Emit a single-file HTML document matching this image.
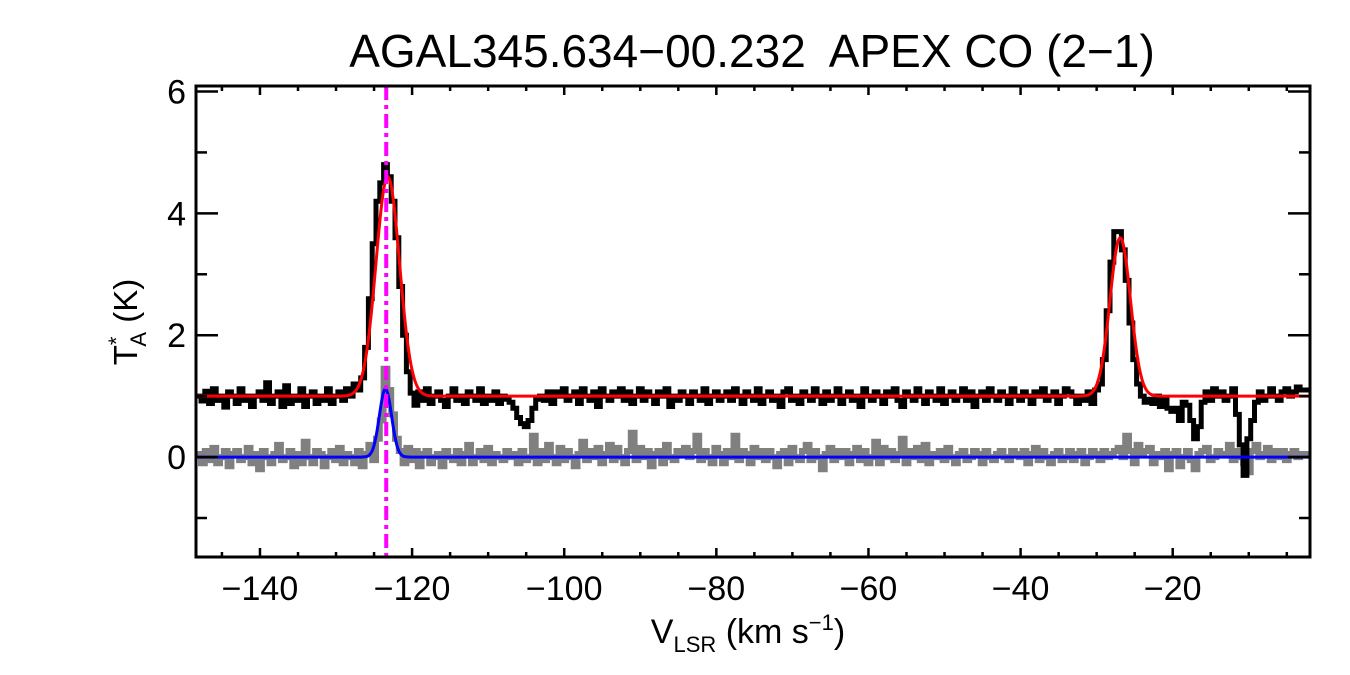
<!DOCTYPE html>
<html><head><meta charset="utf-8"><style>
body{margin:0;background:#fff;}
svg{display:block;font-family:"Liberation Sans",sans-serif;}
</style></head><body>
<svg id="chart" width="1350" height="675" xmlns="http://www.w3.org/2000/svg">
<text x="752" y="67" font-size="46" text-anchor="middle" xml:space="preserve">AGAL345.634−00.232  APEX CO (2−1)</text>
<g id="series"></g>
<g id="axes"></g>
<text transform="translate(137,322) rotate(-90)" font-size="33" text-anchor="middle">T<tspan font-size="22" dy="-13">*</tspan><tspan font-size="22" dx="-10" dy="22">A</tspan><tspan dy="-9"> (K)</tspan></text>
<text x="748" y="643" font-size="34" text-anchor="middle">V<tspan font-size="22" dy="9">LSR</tspan><tspan dy="-9"> (km s</tspan><tspan font-size="22" dy="-13">−1</tspan><tspan dy="13">)</tspan></text>
</svg>
<script>
const v0=-148, dv=0.5;
const spectrum=[
1.0,0.92,1.08,0.88,1.12,0.93,1.0,0.82,1.07,1.0,
0.88,1.12,0.93,1.0,0.83,1.0,1.07,0.93,1.22,0.88,
1.0,1.07,0.83,1.17,0.88,1.0,0.93,1.12,0.83,1.0,
1.07,0.88,1.0,0.93,1.12,0.88,1.0,1.07,0.93,1.12,
1.0,1.2,1.1,1.3,1.8,2.6,3.5,4.2,4.5,4.8,
4.6,4.2,3.6,2.8,2.0,1.4,1.05,0.85,1.07,0.93,
1.12,0.88,1.0,1.07,0.93,0.83,1.0,1.12,0.93,1.0,
0.88,1.07,1.0,0.93,1.12,0.88,1.0,0.93,1.07,0.88,
1.0,0.95,0.9,0.8,0.65,0.55,0.5,0.6,0.8,0.95,
1.0,0.93,1.07,0.88,1.07,1.0,1.12,0.93,1.0,1.07,
0.88,1.12,1.0,0.93,1.07,0.83,1.12,1.0,0.93,1.07,
1.0,1.12,0.93,1.07,0.88,1.0,1.12,0.93,1.07,1.0,
0.88,1.07,1.0,1.12,0.83,1.0,0.93,1.07,1.0,0.88,
1.07,1.0,0.93,1.12,0.88,1.0,1.07,0.93,1.0,1.07,
0.93,1.12,1.0,0.88,1.07,1.0,0.93,1.12,0.88,1.0,
1.07,0.93,1.0,0.83,1.07,1.12,0.93,1.0,0.88,1.07,
1.0,0.93,1.12,1.0,0.88,1.07,0.93,1.0,1.12,0.88,
1.0,1.07,0.93,1.0,0.83,1.12,1.0,0.93,1.07,1.0,
0.88,1.07,1.0,1.12,0.93,0.83,1.07,1.0,0.93,1.12,
1.0,0.88,1.07,1.0,0.93,1.12,0.88,1.0,1.07,0.93,
1.0,1.12,0.93,1.07,0.83,1.0,1.07,0.93,1.12,1.0,
0.93,1.07,1.0,0.88,1.12,1.0,0.93,1.07,1.0,0.88,
1.07,1.0,1.12,0.93,1.0,1.07,0.88,1.0,1.12,1.07,
1.0,0.88,1.0,0.93,1.07,0.88,1.1,1.2,1.6,2.4,
3.2,3.7,3.7,3.4,2.9,2.2,1.6,1.2,1.0,0.9,
0.95,0.88,1.0,0.83,0.95,0.8,0.75,0.8,0.6,0.9,
0.85,0.6,0.3,0.5,0.9,1.07,0.93,1.12,1.0,1.07,
0.93,1.0,1.12,0.7,0.2,-0.3,0.3,0.6,0.9,1.07,
0.93,1.0,1.12,1.0,0.93,1.07,1.12,1.0,1.07,1.15,1.1];
const residual=[
0.05,-0.1,0.1,-0.05,0.15,-0.1,0.0,0.1,-0.15,0.05,
0.1,-0.05,0.0,0.15,-0.1,0.05,-0.2,0.1,0.0,-0.1,
0.05,0.2,-0.05,0.0,0.1,-0.15,0.05,-0.1,0.25,0.0,
-0.1,0.1,0.05,-0.15,0.0,0.1,-0.05,0.15,-0.1,0.05,
0.0,-0.1,0.1,-0.15,0.05,0.2,-0.05,0.3,0.6,1.45,
1.1,0.7,0.3,0.1,-0.1,0.15,-0.05,0.1,-0.15,0.05,
0.1,-0.1,0.0,0.05,-0.15,0.1,0.0,-0.05,0.1,-0.1,
0.05,0.2,-0.1,0.0,0.1,-0.05,0.15,-0.1,0.05,0.0,
-0.05,0.1,0.0,0.05,-0.1,0.1,-0.05,0.0,0.35,-0.1,
0.1,-0.05,0.2,0.0,-0.1,0.15,-0.05,0.1,0.0,-0.15,
0.05,0.25,-0.05,0.1,0.0,0.15,-0.1,0.05,0.2,-0.05,
0.15,0.0,-0.1,0.1,0.4,-0.05,0.15,0.0,0.1,-0.15,
0.05,0.1,-0.1,0.2,0.0,-0.05,0.1,0.05,0.15,0.0,
0.1,0.35,-0.05,0.1,0.0,-0.1,0.15,0.05,-0.1,0.1,
0.0,0.35,-0.05,0.1,0.05,-0.1,0.15,0.0,0.1,-0.05,
0.1,0.0,-0.15,0.05,0.1,-0.1,0.15,0.0,-0.05,0.1,
0.2,-0.05,0.1,0.0,-0.2,0.05,0.15,-0.05,0.1,0.0,
0.1,-0.1,0.05,0.15,-0.05,0.1,-0.1,0.0,0.25,-0.1,
0.15,0.0,0.1,-0.05,0.05,0.3,-0.1,0.1,0.0,0.15,
-0.05,0.2,-0.1,0.05,0.0,0.1,-0.05,0.15,0.0,-0.1,
0.05,0.1,-0.05,0.0,0.1,0.05,-0.1,0.1,0.0,-0.05,
0.05,0.1,0.0,-0.05,0.1,0.05,0.0,0.1,-0.1,0.05,
0.15,-0.05,0.1,0.0,-0.1,0.05,0.1,-0.05,0.0,0.1,
-0.05,0.05,0.1,-0.1,0.0,0.1,0.05,-0.05,0.1,0.0,
0.05,0.1,0.15,0.0,0.35,0.1,-0.1,0.2,0.05,0.1,
0.15,-0.1,0.05,0.0,0.1,-0.2,0.05,0.1,-0.15,0.0,
0.1,-0.05,-0.2,0.05,0.1,0.15,-0.05,0.0,0.1,0.05,
0.05,0.2,-0.05,0.1,0.0,-0.1,-0.25,0.1,0.2,0.0,
0.05,0.15,-0.05,0.1,0.0,0.1,-0.05,0.05,0.1,0.0,0.05];
// fit parameters: [amplitude, centre, sigma]
const redFitBase=[1.0];
const redFitAmps=[3.6,2.6];
const redFitCentres=[-123.2,-26.9];
const redFitSigmas=[1.55,1.35];
const blueFitAmps=[1.12];
const blueFitCentres=[-123.5];
const blueFitSigmas=[0.8];
const markerVelocity=[-123.4];
const xTicks=[-140,-120,-100,-80,-60,-40,-20];
const yTicks=[0,2,4,6];

const L=196,R=1310,T=86,B=557;
const xMin=-148.41,xMax=-1.95,yMin=-1.64,yMax=6.09;
const X=v=>L+(v-xMin)/(xMax-xMin)*(R-L);
const Y=t=>B-(t-yMin)/(yMax-yMin)*(B-T);
const NS="http://www.w3.org/2000/svg";
const series=document.getElementById('series');
const axes=document.getElementById('axes');
function mk(tag,attrs,parent){const e=document.createElementNS(NS,tag);for(const k in attrs)e.setAttribute(k,attrs[k]);parent.appendChild(e);return e;}
function stepPath(arr){let d='';const n=arr.length;arr.forEach((t,i)=>{const v=v0+i*dv;const xa=i===0?L:X(v-dv/2),xb=i===n-1?R:X(v+dv/2);d+=(i?'L':'M')+xa.toFixed(1)+','+Y(t).toFixed(1)+'L'+xb.toFixed(1)+','+Y(t).toFixed(1);});return d;}
const cp=mk('clipPath',{id:'clip'},series);mk('rect',{x:L,y:T,width:R-L,height:B-T},cp);
const g=mk('g',{'clip-path':'url(#clip)'},series);
const gp=mk('path',{d:stepPath(residual),fill:'none',stroke:'#808080','stroke-width':6},g);


const bp=mk('path',{d:stepPath(spectrum),fill:'none',stroke:'#000','stroke-width':5},g);


function fitPath(base,amps,cs,ss){let d='';for(let px=L;px<=R;px+=1){const v=xMin+(px-L)/(R-L)*(xMax-xMin);let t=base;amps.forEach((a,k)=>{t+=a*Math.exp(-0.5*((v-cs[k])/ss[k])**2);});d+=(px===L?'M':'L')+px+','+Y(t).toFixed(1);}return d;}
const rp=mk('path',{d:fitPath(redFitBase[0],redFitAmps,redFitCentres,redFitSigmas),fill:'none',stroke:'#f00','stroke-width':3},g);


const blp=mk('path',{d:fitPath(0,blueFitAmps,blueFitCentres,blueFitSigmas),fill:'none',stroke:'#00f','stroke-width':3},g);


const ml=mk('line',{x1:X(markerVelocity[0]),x2:X(markerVelocity[0]),y1:T,y2:B,stroke:'#f0f','stroke-width':4,'stroke-dasharray':'14,5,4,5'},g);


const fr=mk('rect',{x:L,y:T,width:R-L,height:B-T,fill:'none',stroke:'#000','stroke-width':3},axes);


for(let v=Math.ceil(xMin/5)*5;v<=xMax;v+=5){const maj=v%20===0;const len=maj?9:5;const x=X(v);
mk('line',{x1:x,x2:x,y1:B,y2:B-len,stroke:'#000','stroke-width':2.5},axes);
mk('line',{x1:x,x2:x,y1:T,y2:T+len,stroke:'#000','stroke-width':2.5},axes);}
xTicks.forEach(v=>{const t=mk('text',{x:X(v),y:600,'font-size':34,'text-anchor':'middle'},axes);t.textContent='−'+Math.abs(v);

});
for(let t=-1;t<=6;t+=1){const maj=t%2===0;const len=maj?22:11;const y=Y(t);
mk('line',{x1:L,x2:L+len,y1:y,y2:y,stroke:'#000','stroke-width':2.5},axes);
mk('line',{x1:R,x2:R-len,y1:y,y2:y,stroke:'#000','stroke-width':2.5},axes);}
yTicks.forEach(v=>{const t=mk('text',{x:186,y:Y(v)+12,'font-size':34,'text-anchor':'end'},axes);t.textContent=v;

});
</script>
</body></html>
